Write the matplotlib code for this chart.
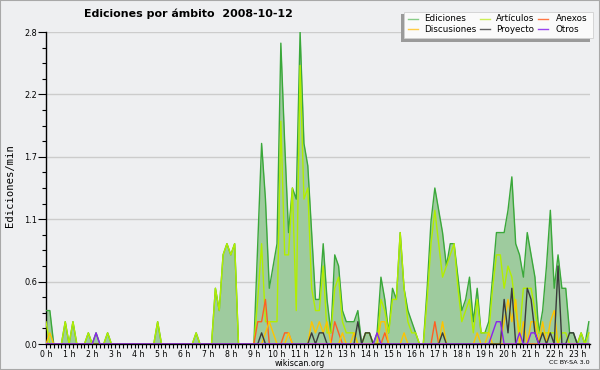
import matplotlib
matplotlib.use("Agg")
import matplotlib.pyplot as plt
from matplotlib.ticker import MultipleLocator, FixedLocator, FuncFormatter
from matplotlib.patches import Rectangle
from matplotlib.lines import Line2D

# ---- data: one value every 10 minutes, 00:00 .. 23:30 (edits per minute) ----
ediciones = [
    0.3, 0.3, 0, 0, 0, 0.2,
    0, 0.2, 0, 0, 0, 0.1,
    0, 0.1, 0, 0, 0.1, 0,
    0, 0, 0, 0, 0, 0,
    0, 0, 0, 0, 0, 0.2,
    0, 0, 0, 0, 0, 0,
    0, 0, 0, 0.1, 0, 0,
    0, 0, 0.5, 0.3, 0.8, 0.9,
    0.8, 0.9, 0, 0, 0, 0,
    0, 0.9, 1.8, 1.3, 0.5, 0.7,
    0.9, 2.7, 1.8, 1.0, 1.4, 1.3,
    2.8, 1.8, 1.6, 1.0, 0.4, 0.4,
    0.9, 0.4, 0.1, 0.8, 0.7, 0.3,
    0.2, 0.2, 0.2, 0.3, 0, 0.1,
    0.1, 0, 0.1, 0.6, 0.4, 0.1,
    0.5, 0.4, 1.0, 0.5, 0.3, 0.2,
    0.1, 0, 0, 0.5, 1.1, 1.4,
    1.2, 1.0, 0.7, 0.9, 0.9, 0.6,
    0.3, 0.4, 0.6, 0.2, 0.5, 0.1,
    0.1, 0.2, 0.6, 1.0, 1.0, 1.0,
    1.2, 1.5, 0.9, 0.8, 0.6, 1.0,
    0.8, 0.6, 0.1, 0.3, 0.7, 1.2,
    0.5, 0.8, 0.5, 0.5, 0.1, 0.1,
    0, 0.1, 0, 0.2,
]
articulos = [
    0.2, 0, 0, 0, 0, 0.2,
    0, 0.2, 0, 0, 0, 0.1,
    0, 0, 0, 0, 0.1, 0,
    0, 0, 0, 0, 0, 0,
    0, 0, 0, 0, 0, 0.2,
    0, 0, 0, 0, 0, 0,
    0, 0, 0, 0.1, 0, 0,
    0, 0, 0.5, 0.3, 0.8, 0.9,
    0.8, 0.9, 0, 0, 0, 0,
    0, 0.4, 0.9, 0.2, 0.2, 0.2,
    0.2, 2.0, 0.8, 0.8, 1.4, 0.3,
    2.5, 1.3, 1.4, 0.5, 0.3, 0.3,
    0.7, 0.1, 0.1, 0.5, 0.6, 0.2,
    0.1, 0.1, 0.1, 0, 0, 0.1,
    0.1, 0, 0, 0.4, 0.3, 0.1,
    0.4, 0.4, 1.0, 0.5, 0.2, 0.1,
    0.1, 0, 0, 0.4, 0.9, 1.2,
    0.9, 0.6, 0.7, 0.8, 0.9, 0.5,
    0.2, 0.3, 0.4, 0.1, 0.4, 0.1,
    0.1, 0.1, 0.5, 0.8, 0.8, 0.5,
    0.7, 0.6, 0.3, 0.1, 0.5, 0.5,
    0.5, 0.3, 0.1, 0.1, 0.1, 0.1,
    0.1, 0, 0.1, 0.1, 0, 0,
    0, 0.1, 0, 0.1,
]
anexos = [
    0, 0, 0, 0, 0, 0,
    0, 0, 0, 0, 0, 0,
    0, 0, 0, 0, 0, 0,
    0, 0, 0, 0, 0, 0,
    0, 0, 0, 0, 0, 0,
    0, 0, 0, 0, 0, 0,
    0, 0, 0, 0, 0, 0,
    0, 0, 0, 0, 0, 0,
    0, 0, 0, 0, 0, 0,
    0, 0.2, 0.2, 0.4, 0, 0,
    0, 0, 0.1, 0.1, 0, 0,
    0, 0, 0, 0, 0, 0,
    0, 0, 0, 0.2, 0.1, 0,
    0, 0, 0, 0, 0, 0,
    0, 0, 0, 0, 0.1, 0,
    0, 0, 0, 0, 0, 0,
    0, 0, 0, 0, 0, 0.2,
    0, 0, 0, 0, 0, 0,
    0, 0, 0, 0, 0, 0,
    0, 0, 0, 0, 0, 0,
    0, 0, 0, 0, 0, 0,
    0, 0, 0, 0, 0, 0,
    0, 0, 0, 0, 0, 0,
    0, 0, 0, 0,
]
discusiones = [
    0, 0.1, 0, 0, 0, 0,
    0, 0, 0, 0, 0, 0,
    0, 0, 0, 0, 0, 0,
    0, 0, 0, 0, 0, 0,
    0, 0, 0, 0, 0, 0,
    0, 0, 0, 0, 0, 0,
    0, 0, 0, 0, 0, 0,
    0, 0, 0, 0, 0, 0,
    0, 0, 0, 0, 0, 0,
    0, 0, 0, 0.1, 0.2, 0.1,
    0, 0, 0, 0.1, 0, 0,
    0, 0, 0, 0.2, 0.1, 0.2,
    0.1, 0.2, 0, 0, 0, 0.1,
    0, 0, 0.1, 0, 0, 0,
    0, 0, 0, 0.2, 0.2, 0,
    0, 0, 0, 0.1, 0, 0,
    0, 0, 0, 0, 0, 0,
    0, 0.2, 0, 0, 0, 0,
    0, 0, 0, 0, 0.1, 0,
    0, 0.1, 0, 0, 0, 0.2,
    0.4, 0.2, 0.4, 0, 0.2, 0,
    0.2, 0.2, 0, 0.2, 0, 0.2,
    0.3, 0, 0, 0, 0, 0,
    0, 0, 0, 0,
]
proyecto = [
    0, 0, 0, 0, 0, 0,
    0, 0, 0, 0, 0, 0,
    0, 0, 0, 0, 0, 0,
    0, 0, 0, 0, 0, 0,
    0, 0, 0, 0, 0, 0,
    0, 0, 0, 0, 0, 0,
    0, 0, 0, 0, 0, 0,
    0, 0, 0, 0, 0, 0,
    0, 0, 0, 0, 0, 0,
    0, 0, 0.1, 0, 0, 0,
    0, 0, 0, 0, 0, 0,
    0, 0, 0, 0.1, 0, 0.1,
    0.1, 0, 0, 0, 0, 0,
    0, 0, 0, 0.2, 0, 0.1,
    0.1, 0, 0, 0, 0, 0,
    0, 0, 0, 0, 0, 0,
    0, 0, 0, 0, 0, 0,
    0, 0.1, 0, 0, 0, 0,
    0, 0, 0, 0, 0, 0,
    0, 0, 0, 0, 0, 0.4,
    0.1, 0.5, 0, 0, 0, 0.5,
    0.4, 0.1, 0, 0.1, 0, 0.1,
    0, 0.7, 0, 0, 0.1, 0.1,
    0, 0, 0, 0,
]
otros = [
    0, 0, 0, 0, 0, 0,
    0, 0, 0, 0, 0, 0,
    0, 0.1, 0, 0, 0, 0,
    0, 0, 0, 0, 0, 0,
    0, 0, 0, 0, 0, 0,
    0, 0, 0, 0, 0, 0,
    0, 0, 0, 0, 0, 0,
    0, 0, 0, 0, 0, 0,
    0, 0, 0, 0, 0, 0,
    0, 0, 0, 0, 0, 0,
    0, 0, 0, 0, 0, 0,
    0, 0, 0, 0, 0, 0,
    0, 0, 0, 0, 0, 0,
    0, 0, 0, 0, 0, 0,
    0, 0, 0.1, 0, 0, 0,
    0, 0, 0, 0, 0, 0,
    0, 0, 0, 0, 0, 0,
    0, 0, 0, 0, 0, 0,
    0, 0, 0, 0, 0, 0,
    0, 0, 0.1, 0.2, 0.2, 0,
    0, 0, 0, 0.1, 0, 0,
    0.1, 0.1, 0, 0, 0, 0,
    0, 0, 0, 0, 0, 0,
    0, 0, 0, 0,
]
hour_labels = ["%d h" % h for h in range(24)]
y_ticks = [0.0, 0.56, 1.12, 1.68, 2.24, 2.8]
title_text = "Ediciones por ámbito  2008-10-12"
legend_names = ["Ediciones", "Artículos", "Anexos", "Discusiones", "Proyecto", "Otros"]

# ---- figure ----
W, H = 600, 370
BG = "#eeeff1"
fig = plt.figure(figsize=(W / 100, H / 100), dpi=100, facecolor=BG)
plt.rcParams["font.family"] = ["DejaVu Sans"]

ax = fig.add_axes([46 / W, (H - 344) / H, (590 - 46) / W, (344 - 32) / H])
ax.set_facecolor(BG)

t = [i / 6 for i in range(len(ediciones))]

ax.fill_between(t, 0, ediciones, color="#9ecb9e", lw=0, zorder=2)
ax.plot(t, ediciones, color="#3aa83a", lw=1.0, zorder=3)
ax.plot(t, articulos, color="#b2ee00", lw=1.0, zorder=4)
ax.plot(t, anexos, color="#ff5f22", lw=1.0, zorder=5)
ax.plot(t, discusiones, color="#ffc400", lw=1.0, zorder=5)
ax.plot(t, proyecto, color="#3a3a3a", lw=1.0, zorder=6)
ax.plot(t, otros, color="#8a22ee", lw=1.0, zorder=6)

ax.set_xlim(0, 23.55)
ax.set_ylim(0, 2.8)

for s in ["top", "right"]:
    ax.spines[s].set_visible(False)
for s in ["left", "bottom"]:
    ax.spines[s].set_color("black")
    ax.spines[s].set_linewidth(1.0)

ax.xaxis.set_major_locator(FixedLocator(list(range(24))))
ax.set_xticklabels(hour_labels)
ax.xaxis.set_minor_locator(MultipleLocator(1 / 6))
ax.tick_params(axis="x", which="both", direction="out", length=3, width=0.8,
               colors="black", labelsize=5.6, pad=1.0)

ax.yaxis.set_major_locator(FixedLocator(y_ticks))
ax.yaxis.set_major_formatter(FuncFormatter(lambda v, p: "%.1f" % v))
ax.yaxis.set_minor_locator(MultipleLocator(0.14))
ax.tick_params(axis="y", which="major", direction="out", length=6, width=0.8,
               labelsize=5.9, pad=0.5)
ax.tick_params(axis="y", which="minor", direction="out", length=3, width=0.8)

ax.grid(True, axis="y", which="major", color="#cccccc", lw=1.0, zorder=1)
ax.set_axisbelow(True)

fig.text(10 / W, 1 - 186 / H, "Ediciones/min", rotation=90, ha="center", va="center",
         fontsize=7.6, family="DejaVu Sans Mono")

fig.text(188 / W, 1 - 14 / H, title_text, ha="center", va="center",
         fontsize=7.9, fontweight="bold")

fig.text(300 / W, 1 - 363 / H, "wikiscan.org", ha="center", va="center", fontsize=5.8)
fig.text(590 / W, 1 - 363 / H, "CC BY-SA 3.0", ha="right", va="center", fontsize=4.6)

# ---- legend (drawn manually in pixel coordinates) ----
def fx(px):
    return px / W

def fy(py):
    return 1 - py / H

fig.patches.append(Rectangle((fx(401), fy(41.5)), (590 - 401) / W, (41.5 - 14) / H,
                             transform=fig.transFigure, facecolor="#9a9a9a", edgecolor="none"))
fig.patches.append(Rectangle((fx(404), fy(38)), (593 - 404) / W, (38 - 12.3) / H,
                             transform=fig.transFigure, facecolor="#fafafa",
                             edgecolor="#d0d0d0", lw=0.6))

legend_colors = ["#88cc88", "#ccee55", "#ff7744", "#ffcc44", "#606060", "#9944ee"]
col_marker_x = [408.3, 480, 538.3]
col_text_x = [424.3, 496, 555.7]
row_y = [18.7, 29]
for k, (name, col) in enumerate(zip(legend_names, legend_colors)):
    c = k % 3
    r = k // 3
    fig.lines.append(Line2D([fx(col_marker_x[c]), fx(col_marker_x[c] + 10)],
                            [fy(row_y[r]), fy(row_y[r])], transform=fig.transFigure,
                            color=col, lw=1.0))
    fig.text(fx(col_text_x[c]), fy(row_y[r]), name, ha="left", va="center", fontsize=6.3)

# figure border
fig.patches.append(Rectangle((0, 0), 1, 1, transform=fig.transFigure, facecolor="none",
                             edgecolor="#a8a8a8", lw=1.5))

fig.savefig("out.png", dpi=100, facecolor=BG)
